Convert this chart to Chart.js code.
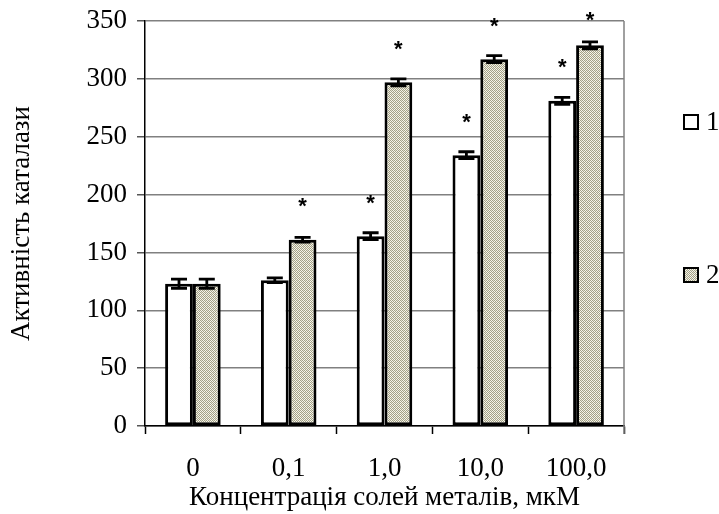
<!DOCTYPE html>
<html><head><meta charset="utf-8">
<script src="https://cdn.jsdelivr.net/npm/chart.js@4"></script>
<style>html,body{margin:0;padding:0;background:#fff}#wrap{width:719px;height:514px}</style>
</head><body><div id="wrap"><canvas id="c" width="719" height="514"></canvas></div>
<script>
const categories = ["0", "0,1", "1,0", "10,0", "100,0"];
const series1 = [123, 126, 164, 234, 281];
const series2 = [123, 161, 297, 317, 329];
const err1 = [4, 2, 3, 3, 3];
const err2 = [4, 2, 3, 3, 3];
const star1 = [null, null, 196, 266, 313];
const star2 = [null, 193, 329, 349, 354];
const seriesLabels = ["1", "2"];
const yTicks = [0, 50, 100, 150, 200, 250, 300, 350];
const FONT = "'Liberation Serif', 'Times New Roman', serif";

function makePattern() {
  const p = document.createElement('canvas');
  p.width = 4; p.height = 4;
  const g = p.getContext('2d');
  g.fillStyle = '#f8f6ec';
  g.fillRect(0, 0, 4, 4);
  g.fillStyle = '#a3a188';
  g.fillRect(0, 0, 1, 1); g.fillRect(1, 1, 1, 1); g.fillRect(2, 0, 1, 1); g.fillRect(3, 1, 1, 1);
  g.fillRect(0, 2, 1, 1); g.fillRect(1, 3, 1, 1); g.fillRect(2, 2, 1, 1); g.fillRect(3, 3, 1, 1);
  g.fillStyle = '#e4e2d0';
  g.fillRect(1, 0, 1, 1); g.fillRect(3, 2, 1, 1);
  return document.getElementById('c').getContext('2d').createPattern(p, 'repeat');
}
const hatch = makePattern();

const extras = {
  id: 'extras',
  afterDatasetsDraw(chart) {
    const ctx = chart.ctx, y = chart.scales.y, area = chart.chartArea;
    ctx.save();
    ctx.strokeStyle = '#808080'; ctx.lineWidth = 1.5;
    ctx.beginPath(); ctx.moveTo(area.right, area.top); ctx.lineTo(area.right, area.bottom + 8); ctx.stroke();
    const errs = [err1, err2], vals = [series1, series2], stars = [star1, star2];
    chart.data.datasets.forEach((ds, di) => {
      const meta = chart.getDatasetMeta(di);
      meta.data.forEach((bar, i) => {
        const v = vals[di][i], e = errs[di][i];
        const yt = y.getPixelForValue(v + e), yb = y.getPixelForValue(v - e);
        ctx.strokeStyle = '#000'; ctx.lineWidth = 2.8;
        ctx.beginPath();
        ctx.moveTo(bar.x, yt); ctx.lineTo(bar.x, yb);
        ctx.moveTo(bar.x - 8, yt); ctx.lineTo(bar.x + 8, yt);
        ctx.moveTo(bar.x - 8, yb); ctx.lineTo(bar.x + 8, yb);
        ctx.stroke();
        const s = stars[di][i];
        if (s != null) {
          ctx.fillStyle = '#000';
          ctx.font = "bold 22px 'Liberation Sans', Arial, sans-serif";
          ctx.textAlign = 'center'; ctx.textBaseline = 'alphabetic';
          const m = ctx.measureText('*');
          const off = (m.actualBoundingBoxAscent - m.actualBoundingBoxDescent) / 2;
          ctx.fillText('*', bar.x, y.getPixelForValue(s) + off);
        }
      });
    });
    const legY = [122, 275];
    chart.data.datasets.forEach((ds, di) => {
      const cy = legY[di];
      ctx.fillStyle = ds.backgroundColor;
      ctx.fillRect(684, cy - 7, 14, 14);
      ctx.strokeStyle = '#000'; ctx.lineWidth = 2;
      ctx.strokeRect(684, cy - 7, 14, 14);
      ctx.fillStyle = '#000';
      ctx.font = "27px " + FONT;
      ctx.textAlign = 'left'; ctx.textBaseline = 'middle';
      ctx.fillText(ds.label, 706, cy + 1);
    });
    ctx.restore();
  }
};

new Chart(document.getElementById('c'), {
  type: 'bar',
  data: {
    labels: categories,
    datasets: [
      { label: seriesLabels[0], data: series1, backgroundColor: '#ffffff', borderColor: '#000', borderWidth: 3, borderSkipped: false },
      { label: seriesLabels[1], data: series2, backgroundColor: hatch, borderColor: '#000', borderWidth: 3, borderSkipped: false }
    ]
  },
  options: {
    responsive: false,
    animation: false,
    devicePixelRatio: 1,
    categoryPercentage: 0.58,
    barPercentage: 1.0,
    layout: { padding: { left: 0, right: 95, top: 21, bottom: 0 } },
    plugins: { legend: { display: false }, tooltip: { enabled: false } },
    scales: {
      x: {
        grid: { display: true, drawOnChartArea: false, drawTicks: true, tickLength: 8, offset: true, color: '#000', tickWidth: 1.5 },
        border: { display: true, color: '#000', width: 1.5 },
        ticks: { color: '#000', font: { family: FONT, size: 27 }, padding: 19, maxRotation: 0 },
        title: { display: true, text: 'Концентрація солей металів, мкМ', color: '#000', font: { family: FONT, size: 27 }, padding: { top: 2, bottom: 0 } },
        afterFit(s) { s.height = 88; s.paddingLeft = 0; s.paddingRight = 0; }
      },
      y: {
        min: 0, max: 350,
        afterBuildTicks(s) { s.ticks = yTicks.map(v => ({ value: v })); },
        grid: { color: '#808080', lineWidth: 1.5, tickLength: 8, tickColor: '#555' },
        border: { display: true, color: '#000', width: 1.5 },
        ticks: { color: '#000', font: { family: FONT, size: 27 }, padding: 10 },
        title: { display: true, text: 'Активність каталази', color: '#000', font: { family: FONT, size: 27 }, padding: { top: 6, bottom: 0 } },
        afterFit(s) { s.width = 145; s.paddingTop = 0; s.paddingBottom = 0; }
      }
    }
  },
  plugins: [extras]
});
</script>
</body></html>
